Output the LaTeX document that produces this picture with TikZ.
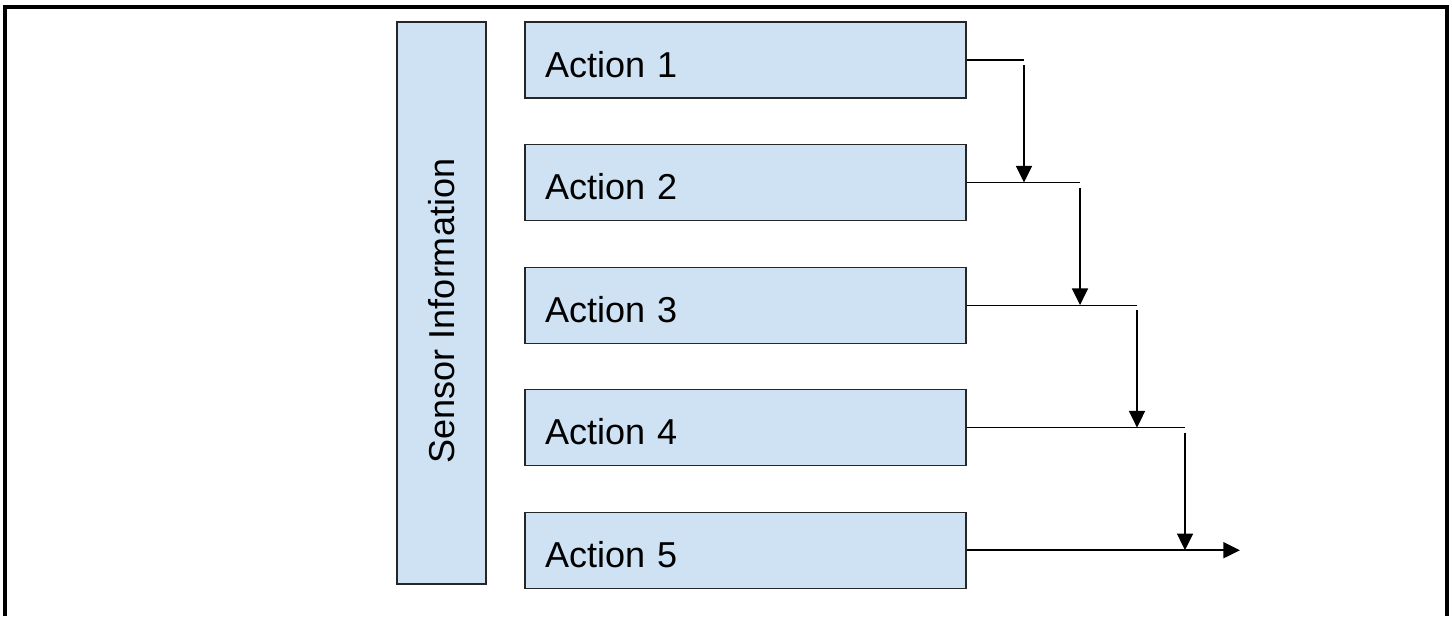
\documentclass[tikz,border=0pt]{standalone}
\usepackage{fontspec}
\setmainfont{Liberation Sans}
\usepackage{tikz}
\usetikzlibrary{arrows.meta}
\usetikzlibrary{positioning}
\definecolor{boxblue}{HTML}{CFE2F3}
\tikzstyle{action}=[draw=black!85,fill=boxblue,line width=0.6pt,minimum height=1.52cm,text width=8.02cm,text height=0.68cm,text depth=0pt,inner xsep=0.4cm,align=left,font=\fontsize{20.5}{24}\selectfont]
\begin{document}
\begin{tikzpicture}[node distance=0.91cm]
\tikzstyle{step line}=[line width=0.6pt]
\tikzstyle{drop}=[line width=1.3pt,-{Triangle[width=9pt,length=9.5pt]}]
\useasboundingbox (0,0) rectangle (29.04,-12.32);
\draw [line width=1.9pt] (0.1,-12.32) -- (0.1,-0.14) -- (28.94,-0.14) -- (28.94,-12.32);
\node [draw=black!85,fill=boxblue,line width=0.6pt,rotate=90,minimum width=11.24cm,minimum height=1.78cm,font=\fontsize{20.5}{24}\selectfont] (s) at (8.83,-6.06) {\hspace*{-0.32cm}Sensor Information};
\node [action] (a1) at (14.91,-1.2) {Action 1};
\node [action,below=of a1] (a2) {Action 2};
\node [action,below=of a2] (a3) {Action 3};
\node [action,below=of a3] (a4) {Action 4};
\node [action,below=of a4] (a5) {Action 5};
\coordinate (t1) at (20.48,0 |- a1.east);
\coordinate (t2) at (21.6,0 |- a2.east);
\coordinate (t3) at (22.74,0 |- a3.east);
\coordinate (t4) at (23.7,0 |- a4.east);
\coordinate (out) at (24.8,0 |- a5.east);
\draw [step line] (a1.east) -- (t1);
\draw [step line] (a2.east) -- (t2);
\draw [step line] (a3.east) -- (t3);
\draw [step line] (a4.east) -- (t4);
\draw [drop] ([yshift=-0.1cm]t1) -- (t1 |- a2.east);
\draw [drop] ([yshift=-0.1cm]t2) -- (t2 |- a3.east);
\draw [drop] ([yshift=-0.1cm]t3) -- (t3 |- a4.east);
\draw [drop] ([yshift=-0.1cm]t4) -- (t4 |- a5.east);
\draw [drop] (a5.east) -- (out);
\end{tikzpicture}
\end{document}
